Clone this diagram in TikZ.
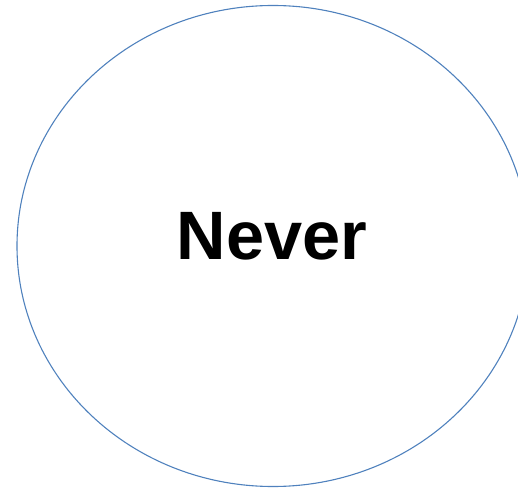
\documentclass[tikz,border=0pt]{standalone}
\usepackage{fontspec}
\setmainfont{Liberation Sans}
\usetikzlibrary{shapes.geometric}
\definecolor{ringblue}{RGB}{79,129,189}

\begin{document}
\begin{tikzpicture}[
  x=1pt, y=1pt,
  ring/.style={ellipse, draw=ringblue, line width=1.1pt, minimum width=512pt, minimum height=481pt, inner sep=0pt},
  word/.style={font=\bfseries\fontsize{68.5}{72}\selectfont, inner sep=0pt, anchor=base}
]
\useasboundingbox (0,0) rectangle (518,490);

\node[ring] (circ) at (273,244) {};
\node[word] (never) at (272,230) {Never};

\end{tikzpicture}
\end{document}
